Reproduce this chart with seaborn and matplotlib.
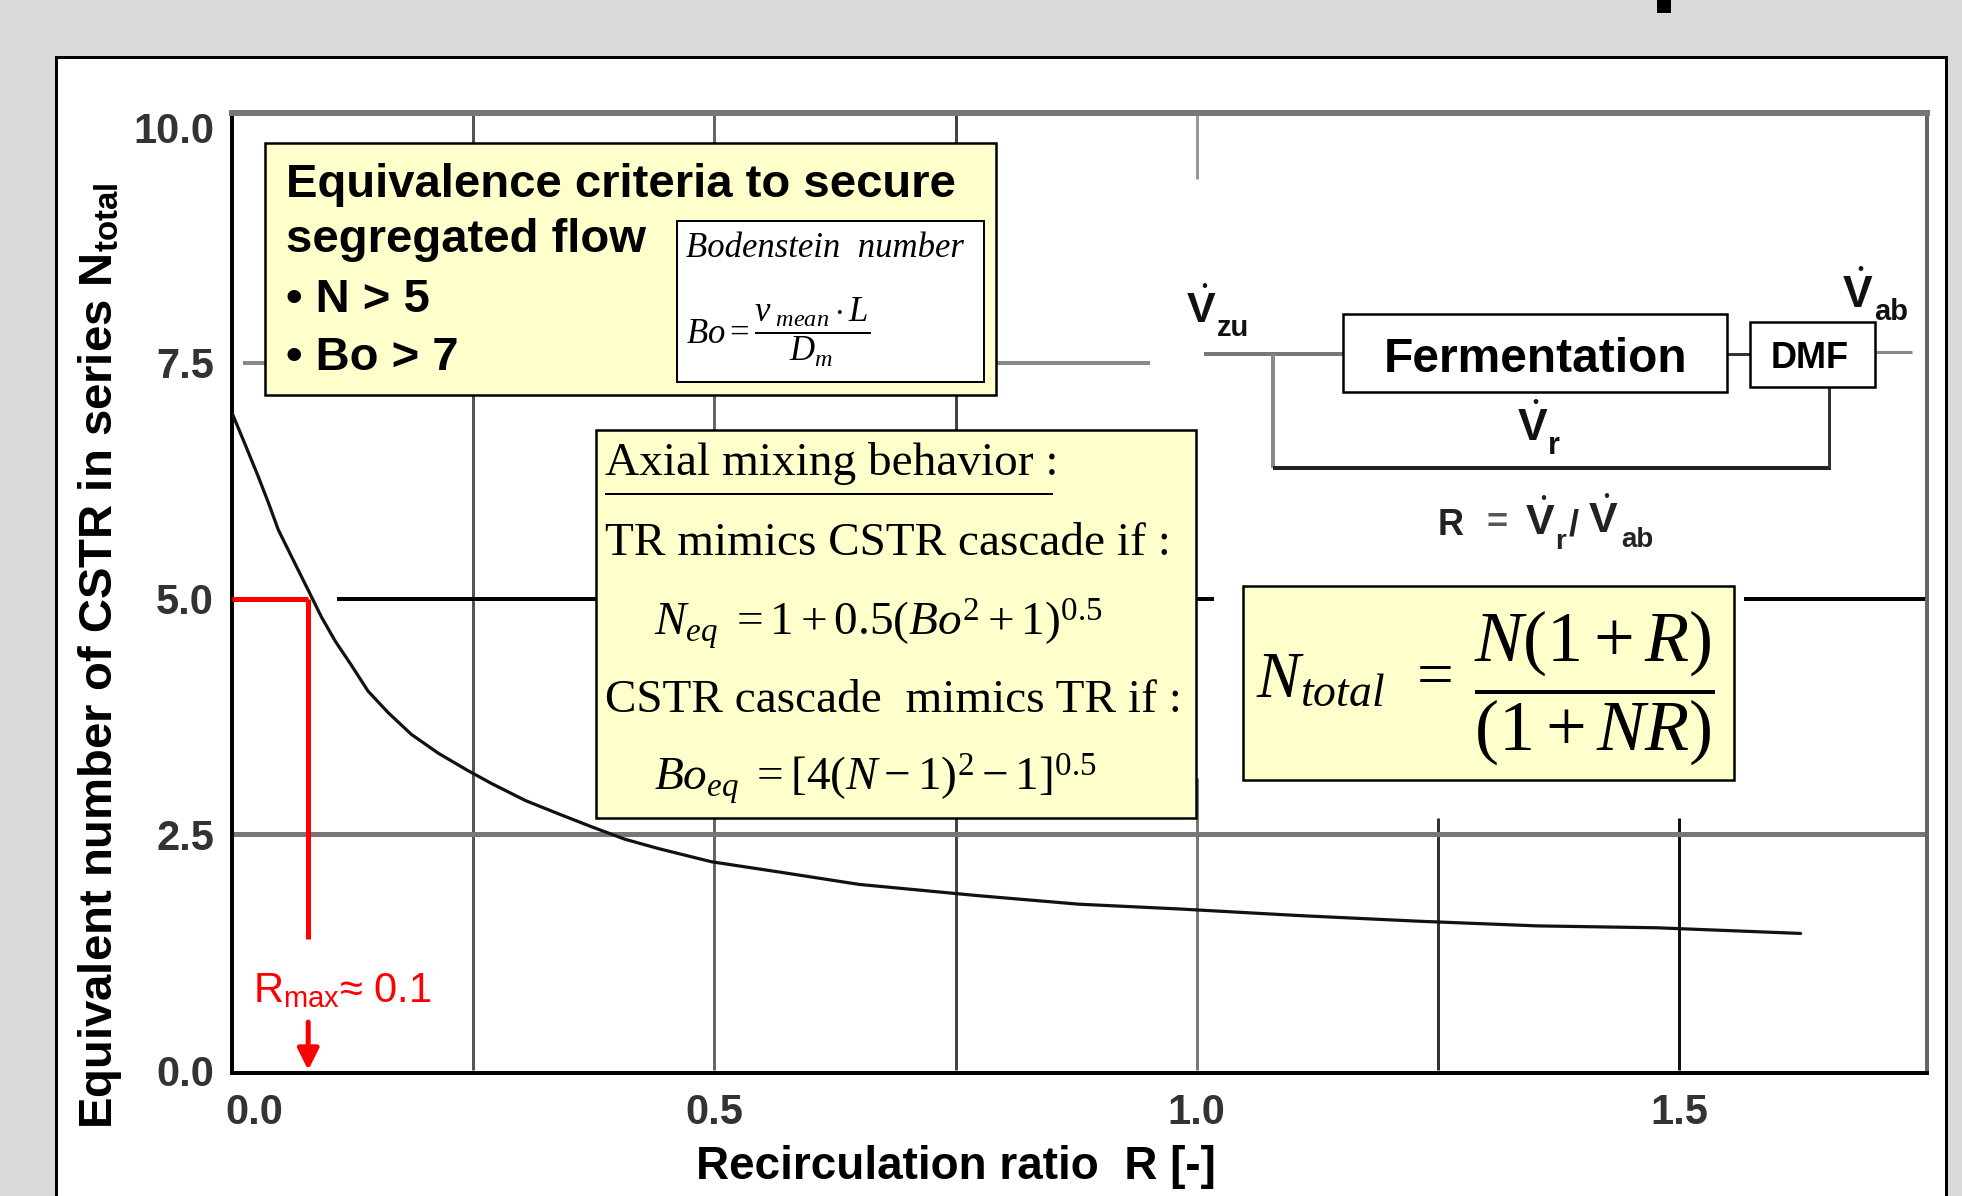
import numpy as np
import pandas as pd
import matplotlib
matplotlib.use("Agg")
import matplotlib.pyplot as plt
import seaborn as sns
from matplotlib.patches import Rectangle
from matplotlib.lines import Line2D
from matplotlib.transforms import ScaledTranslation

# ---------------- data ----------------
recirculation_ratio = [0.0, 0.013, 0.027, 0.038, 0.048, 0.062, 0.079, 0.093, 0.107, 0.124,
                       0.141, 0.162, 0.186, 0.214, 0.244, 0.269, 0.304, 0.338, 0.373,
                       0.407, 0.442, 0.497, 0.568, 0.650, 0.774, 0.878, 0.981, 1.105,
                       1.229, 1.353, 1.477, 1.626]
n_total = [6.97, 6.65, 6.30, 6.01, 5.73, 5.44, 5.09, 4.80, 4.55, 4.29,
           4.02, 3.79, 3.56, 3.36, 3.18, 3.04, 2.86, 2.72, 2.58,
           2.45, 2.35, 2.21, 2.10, 1.97, 1.85, 1.76, 1.71, 1.64,
           1.58, 1.53, 1.51, 1.45]

x_ticks = [0.0, 0.5, 1.0, 1.5]
x_tick_labels = ["0.0", "0.5", "1.0", "1.5"]
y_ticks = [0.0, 2.5, 5.0, 7.5, 10.0]
y_tick_labels = ["0.0", "2.5", "5.0", "7.5", "10.0"]

n_threshold = 5.0        # N > 5 criterion
r_at_threshold = 0.079   # where the curve crosses N = 5
r_line_bottom = 1.39     # end of the red vertical guide
r_arrow_top = 0.51       # start of the red arrow

x_label = "Recirculation ratio  R [-]"
y_label = r"Equivalent number of CSTR in series N$_{\mathbf{total}}$"
rmax_label = r"R$_{\mathsf{max}}$≈ 0.1"

box1_lines = ["Equivalence criteria to secure", "segregated flow", "• N > 5", "• Bo > 7"]
box2_lines = ["Axial mixing behavior :", "TR mimics CSTR cascade if :",
              r"$N_{eq}\ =1+0.5(Bo^{2}+1)^{0.5}$", "CSTR cascade  mimics TR if :",
              r"$Bo_{eq}\ =[4(N-1)^{2}-1]^{0.5}$"]

# ---------------- style ----------------
sns.set_theme(style="white")
plt.rcParams["font.family"] = ["Liberation Sans", "DejaVu Sans"]
plt.rcParams["mathtext.fontset"] = "custom"
plt.rcParams["mathtext.rm"] = "Liberation Serif"
plt.rcParams["mathtext.it"] = "Liberation Serif:italic"
plt.rcParams["mathtext.bf"] = "Liberation Sans:bold"
plt.rcParams["mathtext.sf"] = "Liberation Sans"

W, H = 1962, 1196
DPI = 100
def fx(x): return x / W
def fy(y): return 1 - y / H
def lw(px): return px * 72 / DPI

fig = plt.figure(figsize=(W / DPI, H / DPI), dpi=DPI, facecolor="#d9d9d9")

# white panel with black border
fig.patches.append(Rectangle((fx(56), fy(1210)), (1946 - 56) / W, (1210 - 57) / H,
                             transform=fig.transFigure, fc="white", ec="black",
                             lw=lw(3), zorder=-10))
# small black bar at top
fig.patches.append(Rectangle((fx(1657), fy(13)), 14 / W, 14 / H,
                             transform=fig.transFigure, fc="black", ec="none", zorder=-10))

ax_l, ax_r, ax_t, ax_b = 232, 1927, 113, 1073
ax = fig.add_axes([fx(ax_l), fy(ax_b), (ax_r - ax_l) / W, (ax_b - ax_t) / H])
ax.set_zorder(1)
ax.set_facecolor("white")
ax.set_xlim(0, 1.757)
ax.set_ylim(-0.03, 10.15)

df = pd.DataFrame({"R": recirculation_ratio, "N_total": n_total})
sns.lineplot(data=df, x="R", y="N_total", ax=ax, color="#111111", lw=lw(3.2), zorder=6)

# spines
for side, col, w in [("left", "black", 4), ("bottom", "black", 4), ("top", "#777777", 6), ("right", "#666666", 4)]:
    ax.spines[side].set_visible(True)
    ax.spines[side].set_color(col)
    ax.spines[side].set_linewidth(lw(w))

ax.set_xticks(x_ticks)
ax.set_xticklabels(x_tick_labels)
ax.set_yticks(y_ticks)
ax.set_yticklabels(y_tick_labels)
ax.tick_params(axis="both", length=0, labelsize=30, labelcolor="#333333")
ax.tick_params(axis="x", pad=lw(20))
ax.tick_params(axis="y", pad=lw(18))
for t in ax.get_xticklabels() + ax.get_yticklabels():
    t.set_fontweight("bold")
first = ax.get_xticklabels()[0]
first.set_transform(first.get_transform() + ScaledTranslation(0.22, 0, fig.dpi_scale_trans))

ax.set_xlabel(x_label, fontsize=33, fontweight="bold", color="black")
ax.set_ylabel(y_label, fontsize=34, fontweight="bold", color="black")
ax.xaxis.set_label_coords((956 - ax_l) / (ax_r - ax_l), (ax_b - 1167) / (ax_b - ax_t))
ax.xaxis.label.set_verticalalignment("center")
ax.yaxis.set_label_coords((100 - ax_l) / (ax_r - ax_l), (ax_b - 656) / (ax_b - ax_t))
ax.yaxis.label.set_verticalalignment("center")

# grid segments (irregular, as in the scanned chart)
top = 10.15
ax.vlines(0.25, 0, top, color="#555555", lw=lw(3), zorder=1)
ax.vlines(0.50, 0, top, color="#666666", lw=lw(3), zorder=1)
ax.vlines(0.75, 0, top, color="#444444", lw=lw(3), zorder=1)
ax.vlines(1.00, 9.45, top, color="#999999", lw=lw(3), zorder=1)
ax.vlines(1.00, 0, 3.1, color="#777777", lw=lw(3), zorder=1)
ax.vlines(1.25, 0, 2.67, color="#333333", lw=lw(3), zorder=1)
ax.vlines(1.50, 0, 2.67, color="#111111", lw=lw(3), zorder=1)
ax.hlines(2.5, 0, 1.757, color="#777777", lw=lw(5), zorder=1)
ax.hlines(5.0, 0.109, 1.018, color="black", lw=lw(4), zorder=1)
ax.hlines(5.0, 1.567, 1.757, color="black", lw=lw(4), zorder=1)
ax.hlines(7.5, 0.011, 0.06, color="#888888", lw=lw(4), zorder=1)
ax.hlines(7.5, 0.79, 0.952, color="#888888", lw=lw(4), zorder=1)

# red guides
ax.hlines(n_threshold, 0, r_at_threshold, color="#ff0000", lw=lw(5), zorder=7)
ax.vlines(r_at_threshold, r_line_bottom, n_threshold, color="#ff0000", lw=lw(5), zorder=7)
ax.annotate("", xy=(r_at_threshold, 0.0), xytext=(r_at_threshold, r_arrow_top),
            arrowprops=dict(arrowstyle="-|>", color="#ff0000", lw=lw(5),
                            mutation_scale=32, shrinkA=0, shrinkB=0), zorder=7)

def rect(x0, y0, x1, y1, fc, ec="black", w=2.5, z=3):
    ax.add_patch(Rectangle((fx(x0), fy(y1)), (x1 - x0) / W, (y1 - y0) / H,
                           transform=fig.transFigure, fc=fc, ec=ec, lw=lw(w),
                           zorder=z, clip_on=False))

def ftext(x, y, s, **kw):
    kw.setdefault("ha", "left")
    kw.setdefault("va", "baseline")
    kw.setdefault("zorder", 5)
    ax.text(fx(x), fy(y), s, transform=fig.transFigure, **kw)

def fline(xs, ys, color, w, z=4):
    ax.add_line(Line2D([fx(v) for v in xs], [fy(v) for v in ys], transform=fig.transFigure,
                       color=color, lw=lw(w), zorder=z, clip_on=False,
                       solid_capstyle="butt"))

def vdot(x, yb, sub, vsize, subsize, sub_x, sub_yb, color="#111111"):
    ftext(x, yb, r"$\dot{\mathbf{V}}$", fontsize=vsize, color=color)
    ftext(sub_x, sub_yb, sub, fontsize=subsize, fontweight="bold", color=color)

ftext(253, 1002, rmax_label, color="#ff0000", fontsize=30, zorder=8)

yellow = "#ffffcc"

# ---- box 1: equivalence criteria ----
rect(265, 143, 996, 395, yellow)
for s, yb in zip(box1_lines, [197, 252, 312, 370]):
    ftext(286, yb, s, fontsize=34, fontweight="bold", color="black")
rect(677, 221, 984, 382, "white", w=2, z=4)
ftext(686, 257, "Bodenstein  number", fontsize=25, fontstyle="italic",
      family="Liberation Serif", color="black")
ftext(686, 332, r"$Bo=\dfrac{v_{\ mean}\cdot L}{D_{m}}$", fontsize=25, va="center", color="black")

# ---- box 2: axial mixing ----
rect(596, 430, 1196, 818, yellow)
serif = dict(fontsize=34, family="Liberation Serif", color="black")
ftext(605, 475, box2_lines[0], **serif)
fline([605, 1053], [494, 494], "black", 2, z=5)
ftext(605, 555, box2_lines[1], **serif)
ftext(654, 635, box2_lines[2], **serif)
ftext(605, 712, box2_lines[3], **serif)
ftext(654, 790, box2_lines[4], **serif)

# ---- box 3: N_total formula ----
rect(1243, 586, 1734, 780, yellow)
ftext(1256, 697, r"$N_{total}$", fontsize=47, color="black")
ftext(1417, 696, "=", fontsize=47, family="Liberation Serif", color="black")
ftext(1474, 688, r"$\dfrac{N(1+R)}{(1+NR)}$", fontsize=52, va="center", color="black")

# ---- flow diagram ----
fline([1204, 1343], [354, 354], "#777777", 4)
fline([1273, 1273], [354, 468], "#888888", 4)
fline([1273, 1831], [468, 468], "#222222", 4)
fline([1829, 1829], [468, 387], "#333333", 3)
fline([1727, 1750], [354, 354], "#333333", 3)
fline([1876, 1912], [352, 352], "#888888", 3)
rect(1343, 314, 1727, 392, "white", w=2.5, z=4)
ftext(1536, 372, "Fermentation", fontsize=34.5, fontweight="bold", ha="center", color="black")
rect(1750, 322, 1875, 387, "white", w=2.5, z=4)
ftext(1810, 368, "DMF", fontsize=26, fontweight="bold", ha="center", color="black")

vdot(1186, 323, "zu", 31, 21, 1217, 336)
vdot(1842, 308, "ab", 32, 21, 1874, 320)
vdot(1517, 441, "r", 32, 22, 1548, 454)

ftext(1438, 535, "R", fontsize=26, fontweight="bold", color="#222222")
ftext(1497, 533, "=", fontsize=26, fontweight="bold", ha="center", color="#555555")
vdot(1525, 535, "r", 31, 20, 1555, 549, color="#222222")
ftext(1569, 535, "/", fontsize=26, fontweight="bold", color="#222222")
vdot(1588, 533, "ab", 31, 20, 1621, 547, color="#222222")

fig.savefig("out.png", dpi=DPI, facecolor=fig.get_facecolor())
